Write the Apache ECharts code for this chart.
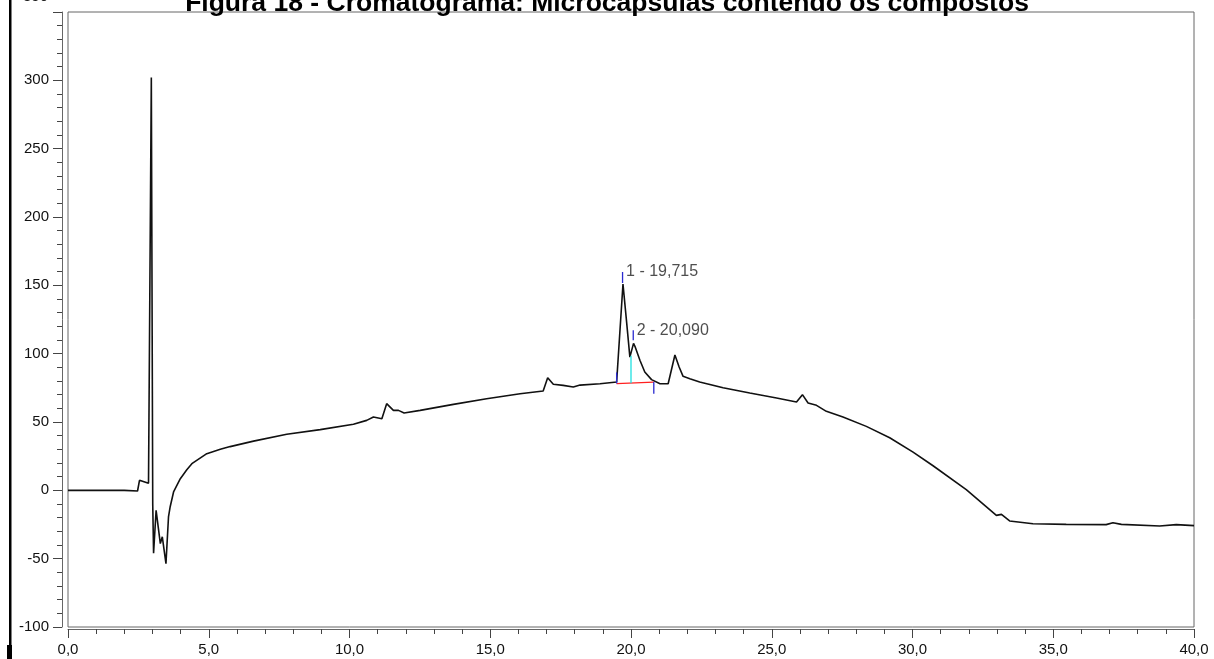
<!DOCTYPE html>
<html>
<head>
<meta charset="utf-8">
<script src="https://cdn.jsdelivr.net/npm/echarts@6/dist/echarts.min.js"></script>
<style>
html,body{margin:0;padding:0;background:#fff;}
#chart{width:1214px;height:659px;}
</style>
</head>
<body>
<div id="chart"></div>
<script>
// Retention time (min)
const time = [0, 1.0, 2.0, 2.47, 2.54, 2.60, 2.86, 2.92, 2.96, 3.01, 3.04, 3.13, 3.28, 3.35, 3.48, 3.57, 3.63, 3.75, 3.99, 4.22, 4.40, 4.93, 5.41, 5.76, 6.59, 7.77, 8.96, 10.14, 10.61, 10.85, 11.15, 11.32, 11.56, 11.74, 11.94, 12.51, 13.69, 14.87, 16.06, 16.88, 17.04, 17.24, 17.59, 17.95, 18.19, 18.9, 19.49, 19.715, 19.84, 19.96, 20.09, 20.14, 20.32, 20.49, 20.73, 21.03, 21.32, 21.56, 21.71, 21.85, 22.09, 22.44, 23.27, 24.22, 25.17, 25.88, 26.09, 26.29, 26.59, 26.94, 27.53, 28.36, 29.19, 30.02, 30.73, 31.91, 32.98, 33.16, 33.45, 34.28, 35.46, 36.88, 37.12, 37.42, 38.78, 39.37, 40.0];
// Detector signal
const signal = [0, 0, 0, -0.5, 7.3, 6.5, 5.1, 6, 302, -10, -46, -14.6, -39, -34, -53.6, -19.5, -12, -1.2, 8.5, 15, 19.5, 26.8, 30, 32, 36, 41, 44.4, 48.3, 51.2, 53.6, 52.4, 63.4, 58.5, 58.5, 56.6, 58.5, 62.9, 67, 70.7, 72.7, 82.4, 77.6, 76.8, 75.6, 77, 78, 79.3, 151, 124, 97.5, 107.5, 105.4, 95, 86.6, 81, 78, 78, 99, 90.2, 83.4, 81.7, 79.3, 75.1, 71.2, 67.5, 64.6, 70, 63.9, 62.2, 57.8, 53.6, 46.8, 38.5, 28, 18, 0.5, -18.3, -17.6, -22.4, -24.4, -24.9, -25.1, -23.7, -24.9, -26.1, -25.1, -25.8];

// Integration markers
const intStart = [[19.49, 78.1], [19.49, 86.2]];
const peak1Tick = [[19.70, 151.7], [19.70, 159.7]];
const peak2Tick = [[20.08, 109.8], [20.08, 117.1]];
const dropLine = [[20.0, 78.4], [20.0, 98.5]];
const baseLine = [[19.49, 78.1], [20.81, 79.2]];
const intEnd = [[20.81, 79.2], [20.81, 70.7]];
const peakLabels = [[19.70, 159.7, '1 - 19,715'], [20.08, 117.1, '2 - 20,090']];

const titleText = 'Figura 18 - Cromatograma: Microcapsulas contendo os compostos';

const chart = echarts.init(document.getElementById('chart'), null, {renderer: 'canvas'});
const trace = time.map((t, i) => [t, signal[i]]);
const FONT = 'Liberation Sans, Arial, sans-serif';

function seg(data, color) {
  return {type: 'line', data: data, showSymbol: false, silent: true,
    lineStyle: {color: color, width: 1.3}, z: 5, animation: false};
}

chart.setOption({
  animation: false,
  backgroundColor: '#fff',
  title: {
    text: titleText, left: 'center', top: -15,
    textStyle: {fontFamily: FONT, fontWeight: 'bold', fontSize: 26.5, color: '#000'}
  },
  grid: {left: 68, right: 20, top: 12, bottom: 32, show: true, borderColor: '#666', borderWidth: 1, backgroundColor: 'transparent'},
  xAxis: {
    type: 'value', min: 0, max: 40, interval: 5, offset: 2,
    axisLine: {show: true, onZero: false, lineStyle: {color: '#666', width: 1}},
    axisTick: {show: true, inside: false, length: 9, lineStyle: {color: '#444'}},
    minorTick: {show: true, splitNumber: 5, length: 5, lineStyle: {color: '#444'}},
    splitLine: {show: false},
    axisLabel: {margin: 13, fontFamily: FONT, fontSize: 15, color: '#111',
      formatter: v => v.toFixed(1).replace('.', ',')}
  },
  yAxis: {
    type: 'value', min: -100, max: 350, interval: 50, offset: 6,
    axisLine: {show: true, onZero: false, lineStyle: {color: '#666', width: 1}},
    axisTick: {show: true, inside: false, length: 9, lineStyle: {color: '#444'}},
    minorTick: {show: true, splitNumber: 5, length: 5, lineStyle: {color: '#444'}},
    splitLine: {show: false},
    axisLabel: {margin: 13, showMaxLabel: false, fontFamily: FONT, fontSize: 15, color: '#111'}
  },
  graphic: [
    {type: 'rect', shape: {x: 9, y: 0, width: 2.5, height: 645}, style: {fill: '#000'}},
    {type: 'rect', shape: {x: 7, y: 645, width: 5, height: 14}, style: {fill: '#000'}},
    {type: 'text', x: 48, y: -3, style: {text: '350', fontFamily: FONT, fontSize: 15, fill: '#111', textAlign: 'right', textVerticalAlign: 'middle'}}
  ],
  series: [
    {type: 'line', data: trace, showSymbol: false, silent: true,
      lineStyle: {color: '#111', width: 1.6}, z: 4},
    seg(baseLine, '#ff2020'),
    seg(dropLine, '#20e0e0'),
    seg(intStart, '#2a2ad0'),
    seg(intEnd, '#2a2ad0'),
    seg(peak1Tick, '#2a2ad0'),
    seg(peak2Tick, '#2a2ad0'),
    {type: 'scatter', data: peakLabels, symbolSize: 1, itemStyle: {color: 'rgba(0,0,0,0)'}, silent: true, z: 6,
      label: {show: true, position: 'right', distance: 3, formatter: p => p.data[2],
        fontFamily: FONT, fontSize: 16, color: '#222'}}
  ]
});
</script>
</body>
</html>
